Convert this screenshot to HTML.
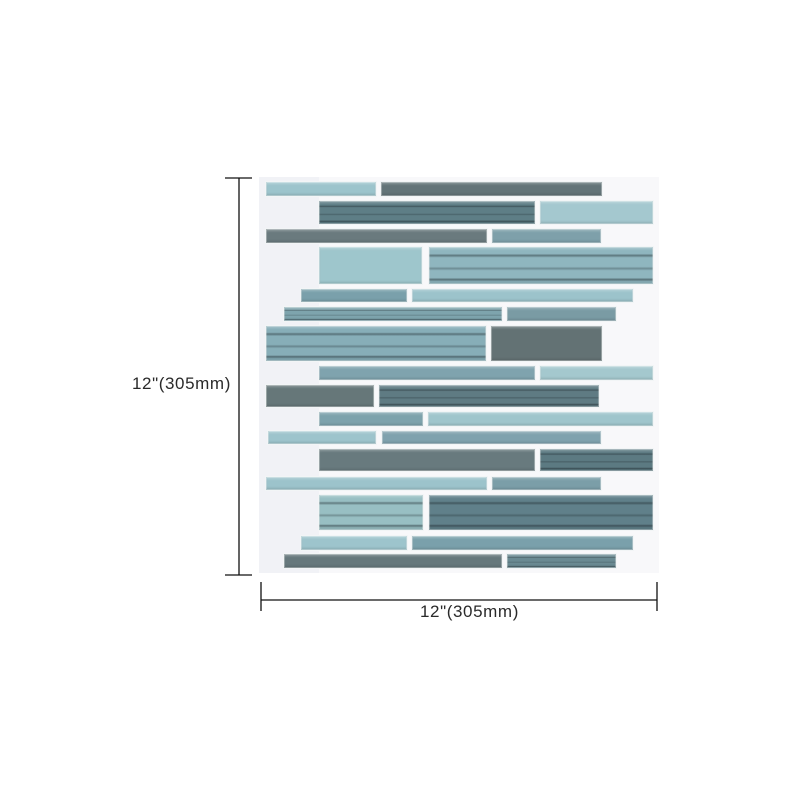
<!DOCTYPE html>
<html><head><meta charset="utf-8"><style>
body{margin:0;background:#fff;}
#c{position:relative;width:800px;height:800px;overflow:hidden;background:#fff;font-family:"Liberation Sans",sans-serif;}
.t{position:absolute;box-sizing:border-box;border:1.5px solid #f2f5f6;box-shadow:inset 0 0 0 1px rgba(255,255,255,.3),inset 0 -2px 2px rgba(0,0,0,.12),inset 0 2px 2px rgba(255,255,255,.25);}
.s{background-image:linear-gradient(180deg,transparent 18%,rgba(30,40,45,.45) 23%,transparent 29%,transparent 53%,rgba(30,40,45,.3) 58%,transparent 64%,transparent 83%,rgba(30,40,45,.5) 88%,transparent 94%);}
.lab{position:absolute;font-size:17px;letter-spacing:0.6px;color:#2a2a2a;white-space:nowrap;}
</style></head><body><div id="c">
<div style="position:absolute;left:259px;top:177px;width:60px;height:396px;background:#f1f2f6"></div>
<div style="position:absolute;left:259px;top:177px;width:400px;height:396px;background:rgba(241,242,246,.5)"></div>
<svg style="position:absolute;left:0;top:0" width="800" height="800">
<g stroke="#111" stroke-width="1.3">
<line x1="239" y1="178" x2="239" y2="575"/><line x1="225" y1="178" x2="252" y2="178"/><line x1="225" y1="575" x2="252" y2="575"/>
<line x1="261" y1="600" x2="657" y2="600"/><line x1="261" y1="582" x2="261" y2="611"/><line x1="657" y1="582" x2="657" y2="611"/>
</g></svg>
<div class="lab" style="left:132px;top:374px">12"(305mm)</div>
<div class="lab" style="left:420px;top:602px">12"(305mm)</div>
<div class="t" style="left:265px;top:181px;width:112px;height:16px;background:#9cc4cc"></div>
<div class="t" style="left:380px;top:181px;width:223px;height:16px;background:#637478"></div>
<div class="t s" style="left:318px;top:200px;width:218px;height:25px;background-color:#5e7e86"></div>
<div class="t" style="left:539px;top:200px;width:115px;height:25px;background:#a4c8cf"></div>
<div class="t" style="left:265px;top:228px;width:223px;height:16px;background:#6a7a7e"></div>
<div class="t" style="left:491px;top:228px;width:111px;height:16px;background:#7ea0aa"></div>
<div class="t" style="left:318px;top:246px;width:105px;height:39px;background:#9ec6cc"></div>
<div class="t s" style="left:428px;top:246px;width:226px;height:39px;background-color:#8fb6bf"></div>
<div class="t" style="left:300px;top:288px;width:108px;height:15px;background:#7aa0ab"></div>
<div class="t" style="left:411px;top:288px;width:223px;height:15px;background:#9cc3cb"></div>
<div class="t s" style="left:283px;top:306px;width:220px;height:16px;background-color:#7ea4ad"></div>
<div class="t" style="left:506px;top:306px;width:111px;height:16px;background:#7a9ba4"></div>
<div class="t s" style="left:265px;top:325px;width:222px;height:37px;background-color:#87aeb8"></div>
<div class="t" style="left:490px;top:325px;width:113px;height:37px;background:#637274"></div>
<div class="t" style="left:318px;top:365px;width:218px;height:16px;background:#7fa3ae"></div>
<div class="t" style="left:539px;top:365px;width:115px;height:16px;background:#a4c8ce"></div>
<div class="t" style="left:265px;top:384px;width:110px;height:24px;background:#667779"></div>
<div class="t s" style="left:378px;top:384px;width:222px;height:24px;background-color:#5f7b83"></div>
<div class="t" style="left:318px;top:411px;width:106px;height:16px;background:#7da2ac"></div>
<div class="t" style="left:427px;top:411px;width:227px;height:16px;background:#9fc5cc"></div>
<div class="t" style="left:267px;top:430px;width:110px;height:15px;background:#9dc4cc"></div>
<div class="t" style="left:381px;top:430px;width:221px;height:15px;background:#7fa2ae"></div>
<div class="t" style="left:318px;top:448px;width:218px;height:24px;background:#687a7e"></div>
<div class="t s" style="left:539px;top:448px;width:115px;height:24px;background-color:#5c7a82"></div>
<div class="t" style="left:265px;top:476px;width:223px;height:15px;background:#9cc3cb"></div>
<div class="t" style="left:491px;top:476px;width:111px;height:15px;background:#7b9ea8"></div>
<div class="t s" style="left:318px;top:494px;width:106px;height:37px;background-color:#98bfc3"></div>
<div class="t s" style="left:428px;top:494px;width:226px;height:37px;background-color:#60808a"></div>
<div class="t" style="left:300px;top:535px;width:108px;height:16px;background:#9dc4cc"></div>
<div class="t" style="left:411px;top:535px;width:223px;height:16px;background:#7aa0ab"></div>
<div class="t" style="left:283px;top:553px;width:220px;height:16px;background:#66787c"></div>
<div class="t s" style="left:506px;top:553px;width:111px;height:16px;background-color:#6a8a92"></div>
</div></body></html>
